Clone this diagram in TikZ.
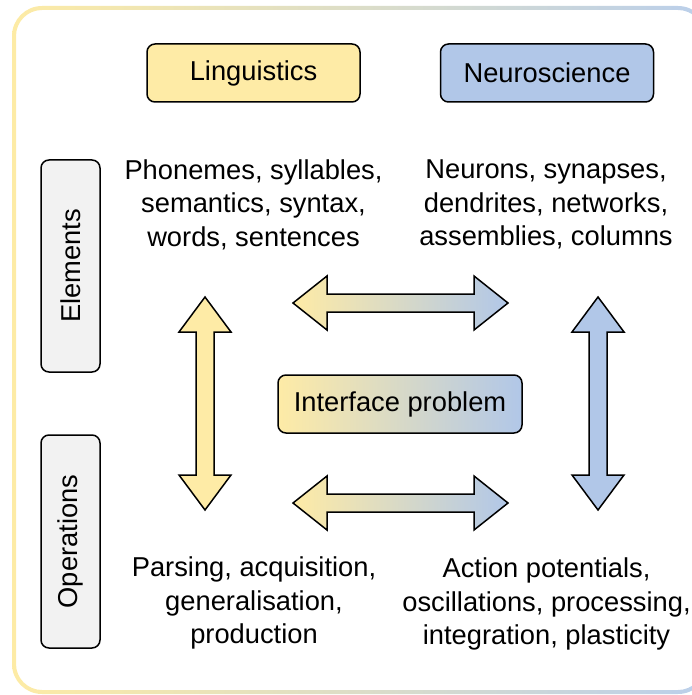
\documentclass[tikz,border=0pt]{standalone}
\usepackage{fontspec}
\setmainfont{Liberation Sans}
\definecolor{ylw}{HTML}{FEEBA6}
\definecolor{blu}{HTML}{B1C7E8}
\definecolor{fylw}{HTML}{FDEBA5}
\definecolor{fblu}{HTML}{BACFEB}
\definecolor{sidegray}{HTML}{F2F2F2}
\begin{document}
\begin{tikzpicture}[x=1pt,y=-1pt,
  every node/.style={font=\fontsize{27.3}{33.5}\selectfont},
  headbox/.style={draw=black, line width=1.5pt, rounded corners=8pt, minimum width=213pt, minimum height=58pt},
  sidebox/.style={draw=black, line width=1.5pt, rounded corners=8pt, fill=sidegray, minimum height=59pt, rotate=90},
  txt/.style={align=center, inner sep=0pt},
  blockarrow/.style={draw=black, line width=1.5pt, line join=miter}
]
\useasboundingbox (0,0) rectangle (691,695);
% outer frame with gradient stroke
\shade[even odd rule, left color=fylw, right color=fblu]
  [rounded corners=30pt] (12,6) rectangle (708,694)
  [rounded corners=26pt] (16,10) rectangle (704,690);

% header boxes
\node[headbox, fill=ylw] (ling) at (253.5,73) {Linguistics};
\node[headbox, fill=blu] (neuro) at (547,73) {Neuroscience};

% side boxes
\node[sidebox, minimum width=212pt] (elem) at (70.5,266) {Elements};
\node[sidebox, minimum width=213pt] (oper) at (70.5,541.5) {Operations};

% text blocks
\node[txt] (lingel) at (253.5,204.5) {Phonemes, syllables,\\semantics, syntax,\\words, sentences};
\node[txt] (neurel) at (546,204.5) {Neurons, synapses,\\dendrites, networks,\\assemblies, columns};
\node[txt] (lingop) at (254,603) {Parsing, acquisition,\\generalisation,\\production};
\node[txt] (neurop) at (546.5,604) {Action potentials,\\oscillations, processing,\\integration, plasticity};

% interface box
\node[draw=black, line width=1.5pt, rounded corners=8pt, left color=ylw, right color=blu,
  minimum width=244pt, minimum height=58pt] (iface) at (400,404) {Interface problem};

% horizontal block arrows
\draw[blockarrow, left color=ylw, right color=blu]
  (293,303) -- (327,276) -- (327,294) -- (474,294) -- (474,276) -- (508,303)
  -- (474,330) -- (474,312) -- (327,312) -- (327,330) -- cycle;
\draw[blockarrow, left color=ylw, right color=blu]
  (293,503) -- (327,476) -- (327,494) -- (474,494) -- (474,476) -- (508,503)
  -- (474,530) -- (474,512) -- (327,512) -- (327,530) -- cycle;

% vertical block arrows
\draw[blockarrow, fill=ylw]
  (205,297) -- (231,332) -- (214,332) -- (214,475) -- (231,475) -- (205,510)
  -- (179,475) -- (196,475) -- (196,332) -- (179,332) -- cycle;
\draw[blockarrow, fill=blu]
  (598,297) -- (624,332) -- (607,332) -- (607,475) -- (624,475) -- (598,510)
  -- (572,475) -- (589,475) -- (589,332) -- (572,332) -- cycle;
\end{tikzpicture}
\end{document}
